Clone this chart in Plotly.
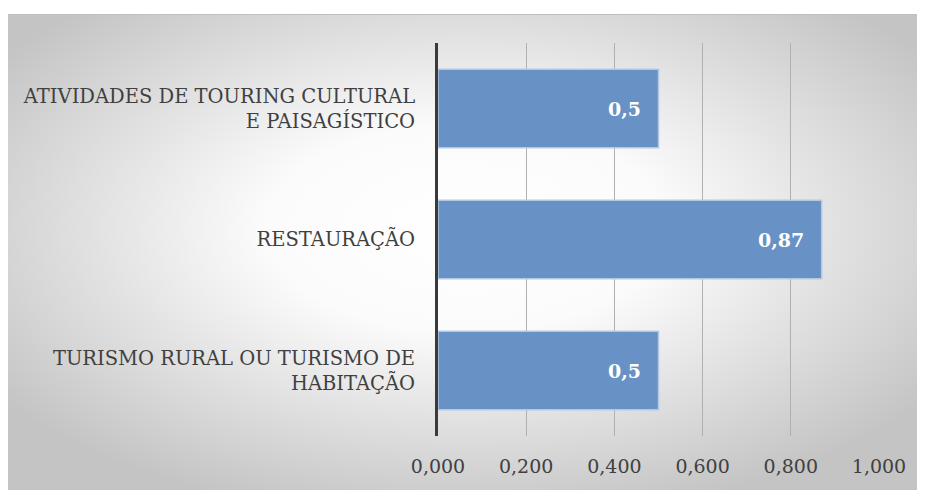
import plotly.graph_objects as go
import base64

categories = ["TURISMO RURAL OU TURISMO DE<br>HABITAÇÃO", "RESTAURAÇÃO",
              "ATIVIDADES DE TOURING CULTURAL<br>E PAISAGÍSTICO"]
values = [0.5, 0.87, 0.5]
value_labels = ["0,5", "0,87", "0,5"]
tick_vals = [0, 0.2, 0.4, 0.6, 0.8, 1.0]
tick_text = ["0,000", "0,200", "0,400", "0,600", "0,800", "1,000"]

# page has 8px body margin
W, H = 917, 482
L, R, T, B = 430, 46, 35, 54
pw, ph = W - L - R, H - T - B

fw, fh = W + 4, H - 6
svg = ('<svg xmlns="http://www.w3.org/2000/svg" width="%d" height="%d" viewBox="0 0 %d %d" preserveAspectRatio="none">'
       '<defs><radialGradient id="g" cx="0.5" cy="0.45" r="0.62" gradientUnits="objectBoundingBox">'
       '<stop offset="0" stop-color="#ffffff"/><stop offset="0.35" stop-color="#fbfbfb"/>'
       '<stop offset="1" stop-color="#c4c4c4"/></radialGradient></defs>'
       '<rect x="0" y="0" width="%d" height="%d" fill="url(#g)"/>'
       '<line x1="0" y1="0.5" x2="%d" y2="0.5" stroke="#bfbfbf" stroke-width="1"/></svg>') % (fw, fh, fw, fh, fw, fh, fw)
src = "data:image/svg+xml;base64," + base64.b64encode(svg.encode()).decode()

fx0, fy0 = -4, 6
img_x = (fx0 - L) / pw
img_y = 1 + (T - fy0) / ph
img_w = fw / pw
img_h = fh / ph

fig = go.Figure(go.Bar(
    y=categories, x=values, orientation="h",
    marker=dict(color="#6892c5", line=dict(color="#b4c8e4", width=1.5)),
    width=0.6,
))

annotations = [dict(x=v, y=c, xref="x", yref="y", text="<b>%s</b>" % t,
                    xanchor="right", yanchor="middle", xshift=-16, showarrow=False,
                    font=dict(family="DejaVu Serif", size=19, color="white"))
               for c, v, t in zip(categories, values, value_labels)]

fig.update_layout(
    width=W, height=H,
    margin=dict(l=L, r=R, t=T, b=B, autoexpand=False),
    paper_bgcolor="white", plot_bgcolor="rgba(0,0,0,0)",
    showlegend=False,
    annotations=annotations,
    images=[dict(source=src, xref="paper", yref="paper", x=img_x, y=img_y,
                 sizex=img_w, sizey=img_h, xanchor="left", yanchor="top",
                 sizing="stretch", layer="below")],
    xaxis=dict(range=[0, 1.0], tickvals=tick_vals, ticktext=tick_text,
               showgrid=True, gridcolor="#b0b0b0", gridwidth=1, zeroline=False,
               showline=False, ticks="", ticklabelstandoff=17,
               tickfont=dict(family="DejaVu Serif", size=19, color="#404040")),
    yaxis=dict(showgrid=False, zeroline=False, showline=True, linecolor="#3a3a3a",
               linewidth=3, ticks="",
               ticklabelstandoff=16, range=[-0.5, 2.5],
               tickfont=dict(family="DejaVu Serif", size=19.5, color="#404040")),
)

fig.write_html("out.html")
